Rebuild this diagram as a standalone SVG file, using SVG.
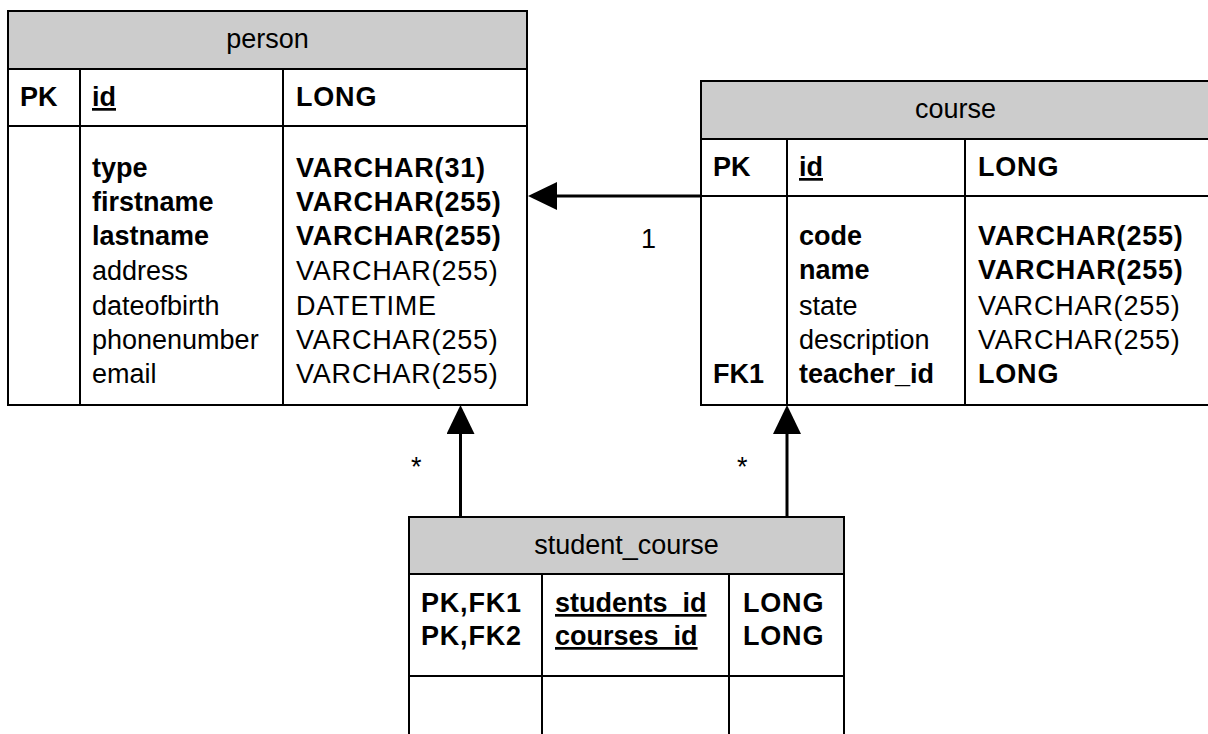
<svg xmlns="http://www.w3.org/2000/svg" width="1208" height="734" viewBox="0 0 1208 734">
<style>
text{font-family:"Liberation Sans",Arial,sans-serif;font-size:27px;fill:#000}
.b{font-weight:bold}
.t{letter-spacing:0.8px}
.h{text-anchor:middle}
.u{text-decoration:underline}
.frame{fill:#fff;stroke:#000;stroke-width:2}
.head{fill:#cccccc;stroke:#000;stroke-width:2}
.ln{stroke:#000;stroke-width:2;fill:none}
.conn{stroke:#000;stroke-width:3;fill:none;marker-end:url(#arrow)}
</style>
<defs>
<marker id="arrow" viewBox="0 0 29 28" refX="0" refY="14" markerWidth="29" markerHeight="28" orient="auto" markerUnits="userSpaceOnUse">
<path d="M0,0 L29,14 L0,28 Z" fill="#000"/>
</marker>
</defs>
<rect width="1208" height="734" fill="#fff"/>

<g id="person">
<rect class="frame" x="8" y="11" width="519" height="394"/>
<rect class="head" x="8" y="11" width="519" height="58"/>
<line class="ln" x1="8" y1="126" x2="527" y2="126"/>
<line class="ln" x1="80" y1="69" x2="80" y2="405"/>
<line class="ln" x1="283" y1="69" x2="283" y2="405"/>
<text class="h" x="267.5" y="48">person</text>
<text class="b" x="20" y="106">PK</text>
<text class="b u" x="92" y="106">id</text>
<text class="b t" x="296" y="106">LONG</text>
<text class="b" x="92" y="177">type</text>
<text class="b" x="92" y="211">firstname</text>
<text class="b" x="92" y="245">lastname</text>
<text x="92" y="280">address</text>
<text x="92" y="315">dateofbirth</text>
<text x="92" y="349">phonenumber</text>
<text x="92" y="383">email</text>
<text class="b t" x="296" y="177">VARCHAR(31)</text>
<text class="b t" x="296" y="211">VARCHAR(255)</text>
<text class="b t" x="296" y="245">VARCHAR(255)</text>
<text class="t" x="296" y="280">VARCHAR(255)</text>
<text class="t" x="296" y="315">DATETIME</text>
<text class="t" x="296" y="349">VARCHAR(255)</text>
<text class="t" x="296" y="383">VARCHAR(255)</text>
</g>

<g id="course">
<rect class="frame" x="701" y="81" width="510" height="324"/>
<rect class="head" x="701" y="81" width="510" height="58"/>
<line class="ln" x1="701" y1="196" x2="1211" y2="196"/>
<line class="ln" x1="787" y1="139" x2="787" y2="405"/>
<line class="ln" x1="965" y1="139" x2="965" y2="405"/>
<text class="h" x="955.5" y="118">course</text>
<text class="b" x="713" y="176">PK</text>
<text class="b u" x="799" y="176">id</text>
<text class="b t" x="978" y="176">LONG</text>
<text class="b" x="799" y="245">code</text>
<text class="b" x="799" y="279">name</text>
<text x="799" y="315">state</text>
<text x="799" y="349">description</text>
<text class="b" x="713" y="383">FK1</text>
<text class="b" x="799" y="383">teacher_id</text>
<text class="b t" x="978" y="245">VARCHAR(255)</text>
<text class="b t" x="978" y="279">VARCHAR(255)</text>
<text class="t" x="978" y="315">VARCHAR(255)</text>
<text class="t" x="978" y="349">VARCHAR(255)</text>
<text class="b t" x="978" y="383">LONG</text>
</g>

<g id="student_course">
<rect class="frame" x="409" y="517" width="435" height="225"/>
<rect class="head" x="409" y="517" width="435" height="57"/>
<line class="ln" x1="409" y1="676" x2="844" y2="676"/>
<line class="ln" x1="542" y1="574" x2="542" y2="742"/>
<line class="ln" x1="729" y1="574" x2="729" y2="742"/>
<text class="h" x="626.5" y="554">student_course</text>
<text class="b t" x="421" y="612">PK,FK1</text>
<text class="b t" x="421" y="645">PK,FK2</text>
<text class="b u" x="555" y="612">students_id</text>
<text class="b u" x="555" y="645">courses_id</text>
<text class="b t" x="743" y="612">LONG</text>
<text class="b t" x="743" y="645">LONG</text>
</g>

<g id="connectors">
<path class="conn" d="M701,196 L557,196"/>
<path class="conn" d="M460.5,516 L460.5,434"/>
<path class="conn" d="M787,516 L787,434"/>
<text x="641" y="248">1</text>
<text x="411" y="476">*</text>
<text x="737" y="476">*</text>
</g>
</svg>
